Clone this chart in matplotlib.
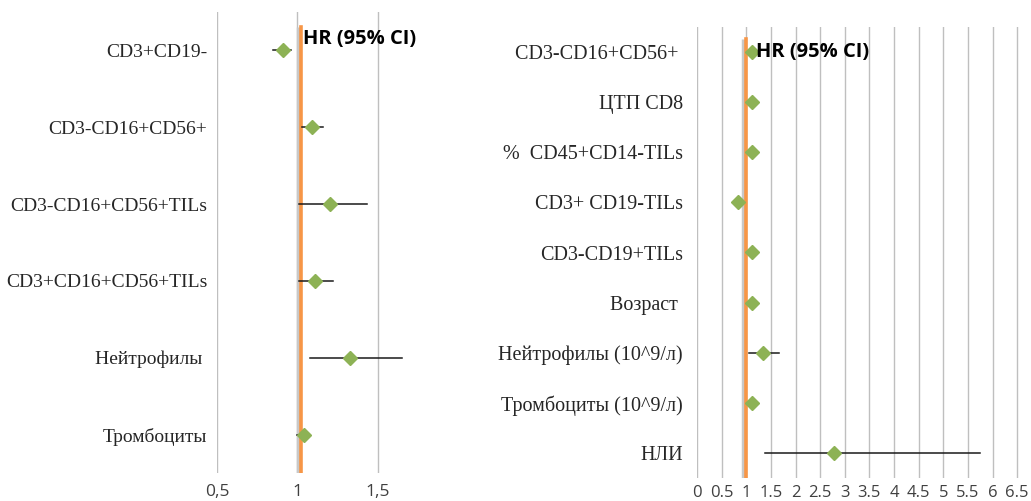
import matplotlib
matplotlib.use('Agg')
import matplotlib.pyplot as plt
import matplotlib.transforms as mtransforms

# левая панель
left_labels = ['CD3+CD19-', 'CD3-CD16+CD56+', 'CD3-CD16+CD56+TILs',
               'CD3+CD16+CD56+TILs', 'Нейтрофилы ', 'Тромбоциты']
left_hr = [0.91, 1.09, 1.20, 1.11, 1.33, 1.04]
left_lo = [0.85, 1.03, 1.01, 1.01, 1.08, 1.00]
left_hi = [0.96, 1.16, 1.43, 1.22, 1.65, 1.05]
left_ticks = [0.5, 1.0, 1.5]
left_ticklabels = ['0,5', '1', '1,5']

# правая панель
right_labels = ['CD3-CD16+CD56+ ', 'ЦТП CD8', '%  CD45+CD14-TILs', 'CD3+ CD19-TILs',
                'CD3-CD19+TILs', 'Возраст ', 'Нейтрофилы (10^9/л)',
                'Тромбоциты (10^9/л)', 'НЛИ']
right_hr = [1.11, 1.11, 1.11, 0.83, 1.11, 1.11, 1.34, 1.11, 2.79]
right_lo = [1.02, 1.02, 1.02, 0.78, 1.02, 1.02, 1.05, 1.02, 1.38]
right_hi = [1.14, 1.14, 1.14, 0.86, 1.14, 1.14, 1.66, 1.14, 5.75]
right_ticks = [0, 0.5, 1, 1.5, 2, 2.5, 3, 3.5, 4, 4.5, 5, 5.5, 6, 6.5]
right_ticklabels = ['0', '0.5', '1', '1.5', '2', '2.5', '3', '3.5', '4',
                    '4.5', '5', '5.5', '6', '6.5']

GREEN = '#8DB255'
ORANGE = '#F79646'
GRID = '#BFBFBF'
LABEL_FONT = ['Liberation Serif', 'DejaVu Serif']
TICK_FONT = ['Open Sans', 'DejaVu Sans']

fig = plt.figure(figsize=(10.31, 5.01), dpi=100)
ax1 = fig.add_axes([217 / 1031, 28 / 501, 209 / 1031, 461 / 501])
ax2 = fig.add_axes([697 / 1031, 23 / 501, 330 / 1031, 451 / 501])


def draw_forest(ax, labels, hr, lo, hi, ref_x, ref_top, label_size, label_pad):
    n = len(labels)
    ys = list(range(n))
    ax.set_ylim(n - 0.5, -0.5)
    ax.set_axisbelow(True)
    ax.grid(axis='x', color=GRID, linewidth=1.0)
    for s in ax.spines.values():
        s.set_visible(False)
    ax.tick_params(length=0)

    # опорная линия HR = 1 с тенью
    shadow = mtransforms.offset_copy(ax.get_xaxis_transform(), fig=fig, x=-3, y=0, units='dots')
    ax.plot([ref_x, ref_x], [0, ref_top], color='#C8C8C8', linewidth=2.5,
            transform=shadow, zorder=2, solid_capstyle='butt')
    ax.axvline(ref_x, ymin=0, ymax=ref_top, color=ORANGE, linewidth=2.6, zorder=3)

    for y, a, b in zip(ys, lo, hi):
        ax.plot([a, b], [y, y], color='#1a1a1a', linewidth=1.1, zorder=4)
    ax.plot(hr, ys, linestyle='none', marker='D', markersize=7.5,
            color=GREEN, markeredgecolor=GREEN, zorder=5)

    ax.set_yticks(ys)
    ax.set_yticklabels(labels, fontfamily=LABEL_FONT, fontsize=label_size, color='#262626')
    ax.tick_params(axis='y', pad=label_pad)


draw_forest(ax1, left_labels, left_hr, left_lo, left_hi, 1.02, 0.967, 14, 7)
ax1.set_xlim(0.5, 1.8)
ax1.set_xticks(left_ticks)
ax1.set_xticklabels(left_ticklabels, fontfamily=TICK_FONT, fontsize=12.5, color='#404040')
ax1.tick_params(axis='x', pad=8)
ax1.text(1.035, -0.15, 'HR (95% CI)', fontfamily=TICK_FONT, fontweight='bold',
         fontsize=14.5, color='black', va='center', ha='left', zorder=6)

draw_forest(ax2, right_labels, right_hr, right_lo, right_hi, 1.0, 0.973, 14.5, 10)
ax2.set_xlim(0, 6.7)
ax2.set_xticks(right_ticks)
ax2.set_xticklabels(right_ticklabels, fontfamily=TICK_FONT, fontsize=12, color='#404040')
ax2.tick_params(axis='x', pad=5)
ax2.text(1.2, 0.0, 'HR (95% CI)', fontfamily=TICK_FONT, fontweight='bold',
         fontsize=14.5, color='black', va='center', ha='left', zorder=6)

fig.savefig('out.png', dpi=100)
